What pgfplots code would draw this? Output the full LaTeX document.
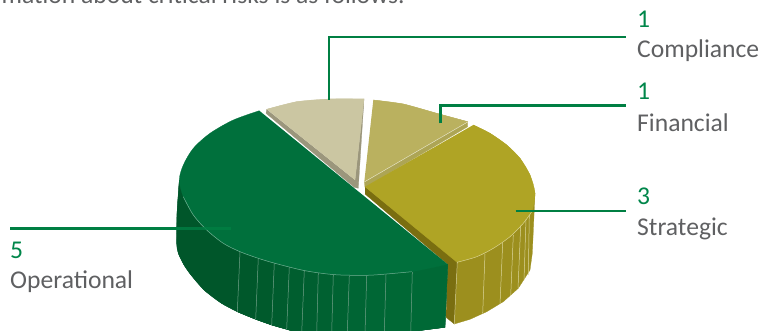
\documentclass[border=0pt]{standalone}
\usepackage{pgfplots}
\usepackage{fontspec}
\setmainfont{Carlito}[Ligatures={Common,Rare}]
\pgfplotsset{compat=1.18}
\definecolor{leader}{HTML}{007F43}
\definecolor{numgreen}{HTML}{00864A}
\definecolor{labelgrey}{HTML}{5F6062}
\definecolor{opTop}{HTML}{00703C}
\definecolor{opA}{HTML}{00562A}
\definecolor{opB}{HTML}{006936}
\definecolor{stTop}{HTML}{AFA425}
\definecolor{stSide}{HTML}{9C8F1E}
\definecolor{stCut}{HTML}{7A6E10}
\definecolor{fiTop}{HTML}{BAB15F}
\definecolor{fiSide}{HTML}{ADA555}
\definecolor{coTop}{HTML}{CBC6A2}
\definecolor{coSide}{HTML}{9B967C}
\pgfplotsset{
  face/.style={fill=#1,draw=#1,line width=0.25pt,forget plot},
  facet/.style={fill=#1,draw=#1,line width=0.25pt,forget plot},
  opline/.style={draw=#1,line width=0.5pt,forget plot},
  stline/.style={draw=stTop!45!white,line width=0.5pt,forget plot},
  leaderline/.style={draw=leader,line width=2.6pt,forget plot},
}
\newcommand{\lab}[3]{\node[anchor=base west,inner sep=0pt,text=numgreen,font=\fontsize{25.6}{28}\selectfont] at (axis cs:#1,#2) {#3};}
\newcommand{\labb}[3]{\node[anchor=base west,inner sep=0pt,text=labelgrey,font=\fontsize{25.6}{28}\selectfont] at (axis cs:#1,#2) {#3};}
\begin{document}
\begin{tikzpicture}
\useasboundingbox (0,0) rectangle (759pt,331pt);
\clip (0,0) rectangle (759pt,331pt);
\begin{axis}[
  at={(0,0)},anchor=south west,
  scale only axis,width=759pt,height=331pt,
  xmin=0,xmax=759,ymin=0,ymax=331,y dir=reverse,
  axis lines=none,clip=false,
]
% Compliance slice
\addplot[face=coSide] coordinates {(266.7,109.3)(266,113.3)(354.3,187.3)(358.3,188.3)(364,99)(355,180)};
\addplot[face=coTop,smooth] coordinates {(266.7,109.3)(296.7,101.7)(330,99)(364,99)};
\addplot[face=coTop] coordinates {(266.7,109.3)(296.7,101.7)(330,99)(364,99)(355,180)};
% Financial slice
\addplot[face=fiSide] coordinates {(467.7,121.7)(467.7,126.7)(365,187.5)(364.3,181.7)};
\addplot[face=fiTop,smooth] coordinates {(373.3,100)(403.3,104)(436.7,113.3)(467.7,121.7)};
\addplot[face=fiTop] coordinates {(373.3,100)(403.3,104)(436.7,113.3)(467.7,121.7)(364.3,181.7)};
\addplot[draw=white!70!fiTop,line width=0.4pt,forget plot] coordinates {(467.7,122)(364.3,182)};
% Strategic slice: side wall, cut face, top
\addplot[face=stSide] coordinates {(457.3,262.3)(454.3,324)(470,319.3)(486.7,311.7)(503.3,301.7)(518.3,288.3)(530,270)(532.3,253.3)(535,193.3)};
\addplot[face=stCut] coordinates {(365,186.7)(457.3,261.7)(454.3,324)(446,317.3)(447.7,264.3)(365,194)};
\addplot[smooth,face=stTop] coordinates {(473.3,125)(490,133.3)(506.7,145)(520,158.3)(530,175)(535,193.3)(531.7,211.7)(523.3,223.3)(510,236.7)(493.3,248.3)(476.7,256.7)(457,262.3)};
\addplot[face=stTop] coordinates {(473.3,125)(490,133.3)(506.7,145)(520,158.3)(530,175)(535,193.3)(531.7,211.7)(523.3,223.3)(510,236.7)(493.3,248.3)(476.7,256.7)(457,262.3)(365,186.7)};
\addplot[stline] coordinates {(485,254)(482.7,313.3)};
\addplot[stline] coordinates {(502.7,242.7)(500,304)};
\addplot[stline] coordinates {(513.3,235)(510.7,296)};
\addplot[stline] coordinates {(520.7,225.7)(518,288.3)};
\addplot[stline] coordinates {(526,219.3)(524,280)};
\addplot[stline] coordinates {(529.3,215)(528.3,275)};
\addplot[smooth,draw=stTop!50!white,line width=0.5pt,forget plot] coordinates {(531.7,211.7)(523.3,223.3)(510,236.7)(493.3,248.3)(476.7,256.7)(457,262.3)};
\addplot[draw=stTop!50!white,line width=0.5pt,forget plot] coordinates {(457.3,262)(454.3,324)};
% Operational slice: side wall in facets, then the top
\addplot[smooth,face=opA] coordinates {(179.3,180)(177,213.3)(176.7,243.3)(178.3,253.3)(184,265)(191,275)(204,290)(221,303)(237.3,311.7)(255.7,319.3)(271.7,325)(286.7,329.3)(301.7,333.3)(356.7,340)(410.7,331.7)(445,327.3)};
\addplot[face=opA] coordinates {(179.3,180)(177,213.3)(176.7,243.3)(178.3,253.3)(184,265)(191,275)(204,290)(221,303)(237.3,311.7)(255.7,319.3)(271.7,325)(286.7,329.3)(301.7,333.3)(356.7,340)(410.7,331.7)(445,327.3)(447.7,264.3)};
\addplot[facet=opB!10!opA] coordinates {(240,251)(258.3,257)(255.7,319.3)(237.3,311.7)};
\addplot[facet=opB!20!opA] coordinates {(258.3,257)(274.3,262)(271.7,325)(255.7,319.3)};
\addplot[facet=opB!30!opA] coordinates {(274.3,262)(289.3,266)(286.7,329.3)(271.7,325)};
\addplot[facet=opB!40!opA] coordinates {(289.3,266)(304.3,270)(301.7,333.3)(286.7,329.3)};
\addplot[facet=opB!50!opA] coordinates {(304.3,270)(318.3,272)(316.7,345)(301.7,333.3)};
\addplot[facet=opB!60!opA] coordinates {(318.3,272)(333.3,274)(331.7,345)(316.7,345)};
\addplot[facet=opB!70!opA] coordinates {(333.3,274)(349.3,275)(347.3,345)(331.7,345)};
\addplot[facet=opB!80!opA] coordinates {(349.3,275)(366.7,275)(365,345)(347.3,345)};
\addplot[facet=opB!88!opA] coordinates {(366.7,275)(386,274)(384.3,345)(365,345)};
\addplot[facet=opB!95!opA] coordinates {(386,274)(412.3,271)(410.7,345)(384.3,345)};
\addplot[facet=opB] coordinates {(412.3,271)(447.7,264.3)(445,327.3)(410.7,331.7)};
\addplot[opline=opA!55!white] coordinates {(240,251.7)(237.3,311.7)};
\addplot[opline=opA!55!white] coordinates {(258.3,257.7)(255.7,319.3)};
\addplot[opline=opA!55!white] coordinates {(274.3,262.7)(271.7,325)};
\addplot[opline=opA!55!white] coordinates {(289.3,266.7)(286.7,329.3)};
\addplot[opline=opA!55!white] coordinates {(304.3,270.3)(301.7,333)};
\addplot[opline=opA!55!white] coordinates {(318.3,272.7)(316.7,333)};
\addplot[opline=opA!55!white] coordinates {(333.3,274.3)(331.7,333)};
\addplot[opline=opA!55!white] coordinates {(349.3,275.3)(347.3,333)};
\addplot[opline=opA!55!white] coordinates {(366.7,275.3)(365,333)};
\addplot[opline=opA!55!white] coordinates {(386,274.3)(384.3,333)};
\addplot[opline=opA!55!white] coordinates {(412.3,272)(410.7,333)};
\addplot[smooth,face=opTop] coordinates {(259.3,110.7)(233.3,120)(210,133.3)(193.3,148.3)(183.3,165)(179.3,180)(183.3,196.7)(193.3,215)(206.7,230)(223.3,243.3)(240,251.7)(258.3,258.3)(275,263.3)(305,270.7)(335,274.7)(366.7,275.3)(386.7,274)(411.7,271.7)(447.7,264.3)};
\addplot[smooth,opline=opTop!55!white] coordinates {(183.3,196.7)(193.3,215)(206.7,230)(223.3,243.3)(240,251.7)(258.3,258.3)(275,263.3)(305,270.7)(335,274.7)(366.7,275.3)(386.7,274)(411.7,271.7)};
% Leader lines
\addplot[leaderline] coordinates {(329,100)(329,37.1)(626,37.1)};
\addplot[leaderline] coordinates {(440.3,123.5)(440.3,105.7)(626,105.7)};
\addplot[leaderline] coordinates {(515.7,211)(626,211)};
\addplot[leaderline] coordinates {(10,228.5)(180,228.5)};
\addplot[draw=leader,line width=2.6pt,opacity=0.8,forget plot] coordinates {(180,228.5)(231,228.5)};
% Labels
\lab{637}{27.4}{1}
\labb{637}{58}{Compliance}
\lab{637}{100}{1}
\labb{637}{131.4}{Financial}
\lab{637}{204.4}{3}
\labb{637}{235.4}{Strategic}
\lab{10}{258.6}{5}
\labb{10}{288.6}{Operational}
\node[anchor=base east,inner sep=0pt,text=labelgrey,font=\fontsize{25.6}{28}\selectfont] at (axis cs:405,4) {Information about critical risks is as follows.};
\end{axis}
\end{tikzpicture}
\end{document}
